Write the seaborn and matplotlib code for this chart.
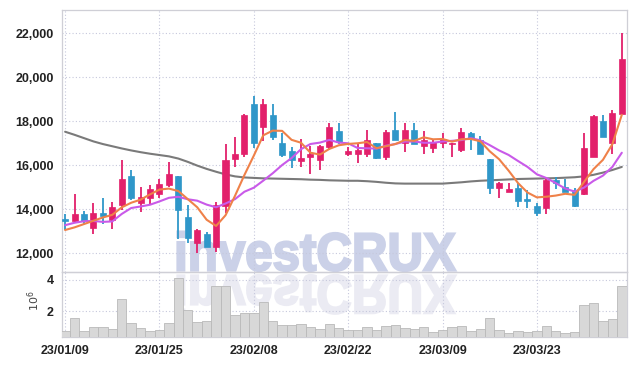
import numpy as np
import pandas as pd
import matplotlib
matplotlib.use("Agg")
import matplotlib.pyplot as plt
import seaborn as sns
from matplotlib.textpath import TextPath
from matplotlib.patches import PathPatch
from matplotlib.font_manager import FontProperties
from matplotlib.transforms import Affine2D

# ---------------- data ----------------
dates = ["23/01/09", "23/01/10", "23/01/11", "23/01/12", "23/01/13",
         "23/01/16", "23/01/17", "23/01/18", "23/01/19", "23/01/20",
         "23/01/25", "23/01/26", "23/01/27", "23/01/30", "23/01/31",
         "23/02/01", "23/02/02", "23/02/03", "23/02/06", "23/02/07",
         "23/02/08", "23/02/09", "23/02/10", "23/02/13", "23/02/14",
         "23/02/15", "23/02/16", "23/02/17", "23/02/20", "23/02/21",
         "23/02/22", "23/02/23", "23/02/24", "23/02/27", "23/02/28",
         "23/03/02", "23/03/03", "23/03/06", "23/03/07", "23/03/08",
         "23/03/09", "23/03/10", "23/03/13", "23/03/14", "23/03/15",
         "23/03/16", "23/03/17", "23/03/20", "23/03/21", "23/03/22",
         "23/03/23", "23/03/24", "23/03/27", "23/03/28", "23/03/29",
         "23/03/30", "23/03/31", "23/04/03", "23/04/04", "23/04/05"]

opens = [13550, 13470, 13770, 13150, 13830, 13520, 14210, 15500, 14290, 14490,
         14710, 15080, 15500, 13640, 12470, 12890, 12290, 14140, 16270, 16500,
         18800, 17740, 18270, 17010, 16640, 16200, 16380, 16230, 16830, 17550,
         16490, 16530, 16530, 16990, 16380, 17620, 16990, 17620, 16880, 16800,
         16990, 16950, 16710, 17440, 17140, 16300, 14940, 14760, 14940, 14440,
         14140, 14030, 15320, 14990, 14860, 14710, 16380, 18000, 16990, 18320]
closes = [13480, 13770, 13470, 13830, 13700, 14080, 15390, 14510, 14530, 14900,
          15140, 15590, 13950, 12700, 13050, 12290, 14180, 16230, 16500, 18270,
          16990, 18800, 17290, 16450, 16230, 16330, 16530, 16860, 17740, 17060,
          16640, 16680, 17140, 16330, 17510, 17140, 17590, 16950, 17140, 17060,
          17210, 16990, 17490, 17210, 16530, 14940, 15170, 14910, 14380, 14380,
          13830, 15320, 15170, 14790, 14140, 16760, 18230, 17290, 18350, 20820]
highs = [13800, 14710, 13910, 14300, 14490, 14330, 16230, 15800, 14990, 15120,
         15350, 16150, 15500, 14210, 13090, 12970, 14330, 16940, 17290, 18320,
         19140, 19030, 18770, 17470, 16830, 17210, 16860, 16910, 17900, 17940,
         16830, 16990, 17590, 17000, 17590, 18420, 17900, 17900, 17560, 17170,
         17440, 16990, 17710, 17510, 17320, 16300, 15240, 15170, 15170, 14890,
         14260, 15420, 15470, 15350, 14940, 17440, 18270, 18300, 18530, 21990]
lows = [13050, 13350, 13330, 12860, 13320, 13080, 13950, 14410, 13880, 14230,
        14510, 15010, 12650, 12450, 11990, 12290, 12060, 13830, 15900, 16380,
        16800, 17100, 17140, 16380, 15850, 15900, 15620, 15770, 16710, 16950,
        16410, 16120, 16380, 16300, 16230, 17140, 16580, 16950, 16490, 16560,
        16760, 16380, 16600, 16710, 16530, 14670, 14490, 14760, 14100, 14060,
        13700, 13760, 14910, 14790, 14080, 14640, 16380, 17290, 16530, 18320]

ma5 = [13050, 13170, 13320, 13470, 13620, 13740, 14080, 14290, 14430, 14670,
       14890, 14934, 14822, 14456, 14086, 13516, 13234, 13720, 14600, 15550,
       16434, 17358, 17570, 17560, 17152, 17020, 16566, 16480, 16738, 16904,
       16966, 16996, 17052, 16770, 16860, 16960, 17142, 17104, 17266, 17176,
       17190, 17070, 17178, 17192, 17086, 16632, 16268, 15752, 15186, 14756,
       14534, 14564, 14616, 14698, 14650, 15236, 15818, 16242, 16954, 18290]
ma10 = [13270, 13380, 13450, 13460, 13420, 13440, 13780, 14050, 14120, 14200,
        14350, 14514, 14562, 14449, 14384, 14205, 14084, 14256, 14453, 14790,
        14975, 15296, 15630, 16005, 16323, 16727, 16962, 17025, 17149, 17028,
        16993, 16781, 16766, 16754, 16882, 16963, 17069, 17078, 17018, 17018,
        17075, 17106, 17141, 17229, 17131, 16911, 16669, 16465, 16189, 15921,
        15583, 15416, 15184, 14937, 14798, 14980, 15286, 15524, 15921, 16565]
ma_long = [17520, 17380, 17230, 17080, 16960, 16860, 16760, 16670, 16590, 16520,
           16460, 16400, 16300, 16150, 15980, 15830, 15700, 15580, 15490, 15440,
           15420, 15400, 15390, 15380, 15370, 15360, 15340, 15330, 15310, 15300,
           15290, 15290, 15270, 15240, 15200, 15170, 15160, 15160, 15160, 15160,
           15160, 15190, 15220, 15260, 15290, 15310, 15330, 15350, 15370, 15380,
           15390, 15400, 15410, 15430, 15450, 15490, 15560, 15660, 15780, 15920]

volumes = [0.72, 1.56, 0.72, 0.99, 0.99, 0.84, 2.74, 1.24, 0.93, 0.72,
           0.78, 1.24, 4.08, 2.04, 1.31, 1.37, 3.58, 3.62, 1.73, 1.87,
           1.87, 2.61, 1.35, 1.10, 1.10, 1.16, 0.99, 0.84, 1.16, 0.93,
           0.78, 0.78, 0.99, 0.78, 1.05, 1.10, 0.93, 0.84, 0.99, 0.68,
           0.78, 0.99, 1.05, 0.74, 0.84, 1.56, 0.78, 0.61, 0.74, 0.68,
           0.74, 1.05, 0.74, 0.61, 0.68, 2.42, 2.50, 1.37, 1.50, 3.62]  # millions

tick_idx = [0, 10, 20, 30, 40, 50]
price_ticks = [12000, 14000, 16000, 18000, 20000, 22000]
vol_ticks = [2, 4]

# ---------------- style ----------------
sns.set_theme(style="white")
plt.rcParams['font.family'] = ['Liberation Sans', 'DejaVu Sans']

RED = "#e2206b"
BLUE = "#2f97c9"
ORANGE = "#ef8149"
MAGENTA = "#c95ae9"
GRAY = "#7a7a7a"
GRID = "#c6c8dc"
SPINE = "#cfcfd6"

n = len(closes)
idx = np.arange(n)
df = pd.DataFrame({"i": idx, "open": opens, "close": closes, "high": highs,
                   "low": lows, "ma5": ma5, "ma10": ma10, "malong": ma_long,
                   "vol": np.array(volumes) * 1e6})
df["up"] = df["close"] >= df["open"]
df["color"] = np.where(df["up"], RED, BLUE)

W, H = 635, 366
fig = plt.figure(figsize=(W / 100, H / 100), dpi=100)
fig.patch.set_facecolor("white")
ax = fig.add_axes([62 / W, 1 - 272 / H, (627 - 62) / W, (272 - 9.5) / H])
axv = fig.add_axes([62 / W, 1 - 337 / H, (627 - 62) / W, (337 - 272) / H], sharex=ax)
for a in (ax, axv):
    a.set_facecolor("none")

# ---------------- watermark ----------------
fp = FontProperties(family="Liberation Sans", weight="bold")
tp = TextPath((0, 0), "investCRUX", size=1, prop=fp)
ext = tp.get_extents()
cap = TextPath((0, 0), "C", size=1, prop=fp).get_extents().ymax
x0, x1 = 177.5, 455.5
sx = (x1 - x0) / ext.width
sy = 37.5 / cap
base_y = H - 270.5
tr = Affine2D().translate(-ext.xmin, 0).scale(sx, sy).translate(x0, base_y)
fig.add_artist(PathPatch(tr.transform_path(tp), facecolor="#cbd1e8", edgecolor="#cbd1e8",
                         linewidth=1.6, transform=None, zorder=-2))
tr2 = Affine2D().translate(-ext.xmin, 0).scale(sx, -sy * 1.02).translate(x0, base_y - 5)
fig.add_artist(PathPatch(tr2.transform_path(tp), facecolor="#ebebf3", edgecolor="#ebebf3",
                         linewidth=1.6, transform=None, zorder=-2))

# ---------------- candles ----------------
ax.vlines(df["i"], df["low"], df["high"], colors=df["color"], linewidth=1.3, zorder=3)
body_bottom = np.minimum(df["open"], df["close"])
body_h = np.maximum(np.abs(df["close"] - df["open"]), 40)
ax.bar(df["i"], body_h, bottom=body_bottom, width=0.64, color=df["color"],
       edgecolor=df["color"], linewidth=0.5, zorder=4)

# moving averages
sns.lineplot(data=df, x="i", y="malong", ax=ax, color=GRAY, linewidth=1.5, zorder=2)
sns.lineplot(data=df, x="i", y="ma10", ax=ax, color=MAGENTA, linewidth=1.5, zorder=5)
sns.lineplot(data=df, x="i", y="ma5", ax=ax, color=ORANGE, linewidth=1.5, zorder=6)

ax.set_ylim(11140, 23080)
ax.set_yticks(price_ticks)
ax.set_yticklabels([f"{v:,}" for v in price_ticks])
ax.set_xlim(-0.33, 59.55)

# ---------------- volume ----------------
sns.barplot(data=df, x="i", y="vol", ax=axv, native_scale=True, width=1.0,
            color="#d8d8d8", saturation=1, edgecolor="#b9b9b9", linewidth=0.6,
            zorder=3)
axv.set_ylim(0.36e6, 4.48e6)
axv.set_yticks([v * 1e6 for v in vol_ticks])
axv.set_yticklabels([str(v) for v in vol_ticks])
axv.set_xticks(tick_idx)
axv.set_xticklabels([dates[i] for i in tick_idx])
axv.set_xlim(-0.33, 59.55)

for a in (ax, axv):
    a.grid(True, linestyle=(0, (1, 2)), color=GRID, linewidth=0.8)
    a.set_axisbelow(True)
    a.set_xlabel("")
    a.set_ylabel("")
    a.tick_params(length=0, pad=6, labelsize=9, labelcolor="#222222")
    for lab in a.get_xticklabels() + a.get_yticklabels():
        lab.set_fontweight("bold")
    for s in a.spines.values():
        s.set_color(SPINE)
        s.set_linewidth(0.9)
ax.tick_params(labelbottom=False)
ax.set_xticks(tick_idx)

fig.text(34 / W, 1 - 301 / H, "$10^6$", rotation=90, ha="center", va="center",
         fontsize=8, color="#444444")

fig.savefig("out.png", dpi=100, facecolor="white")
